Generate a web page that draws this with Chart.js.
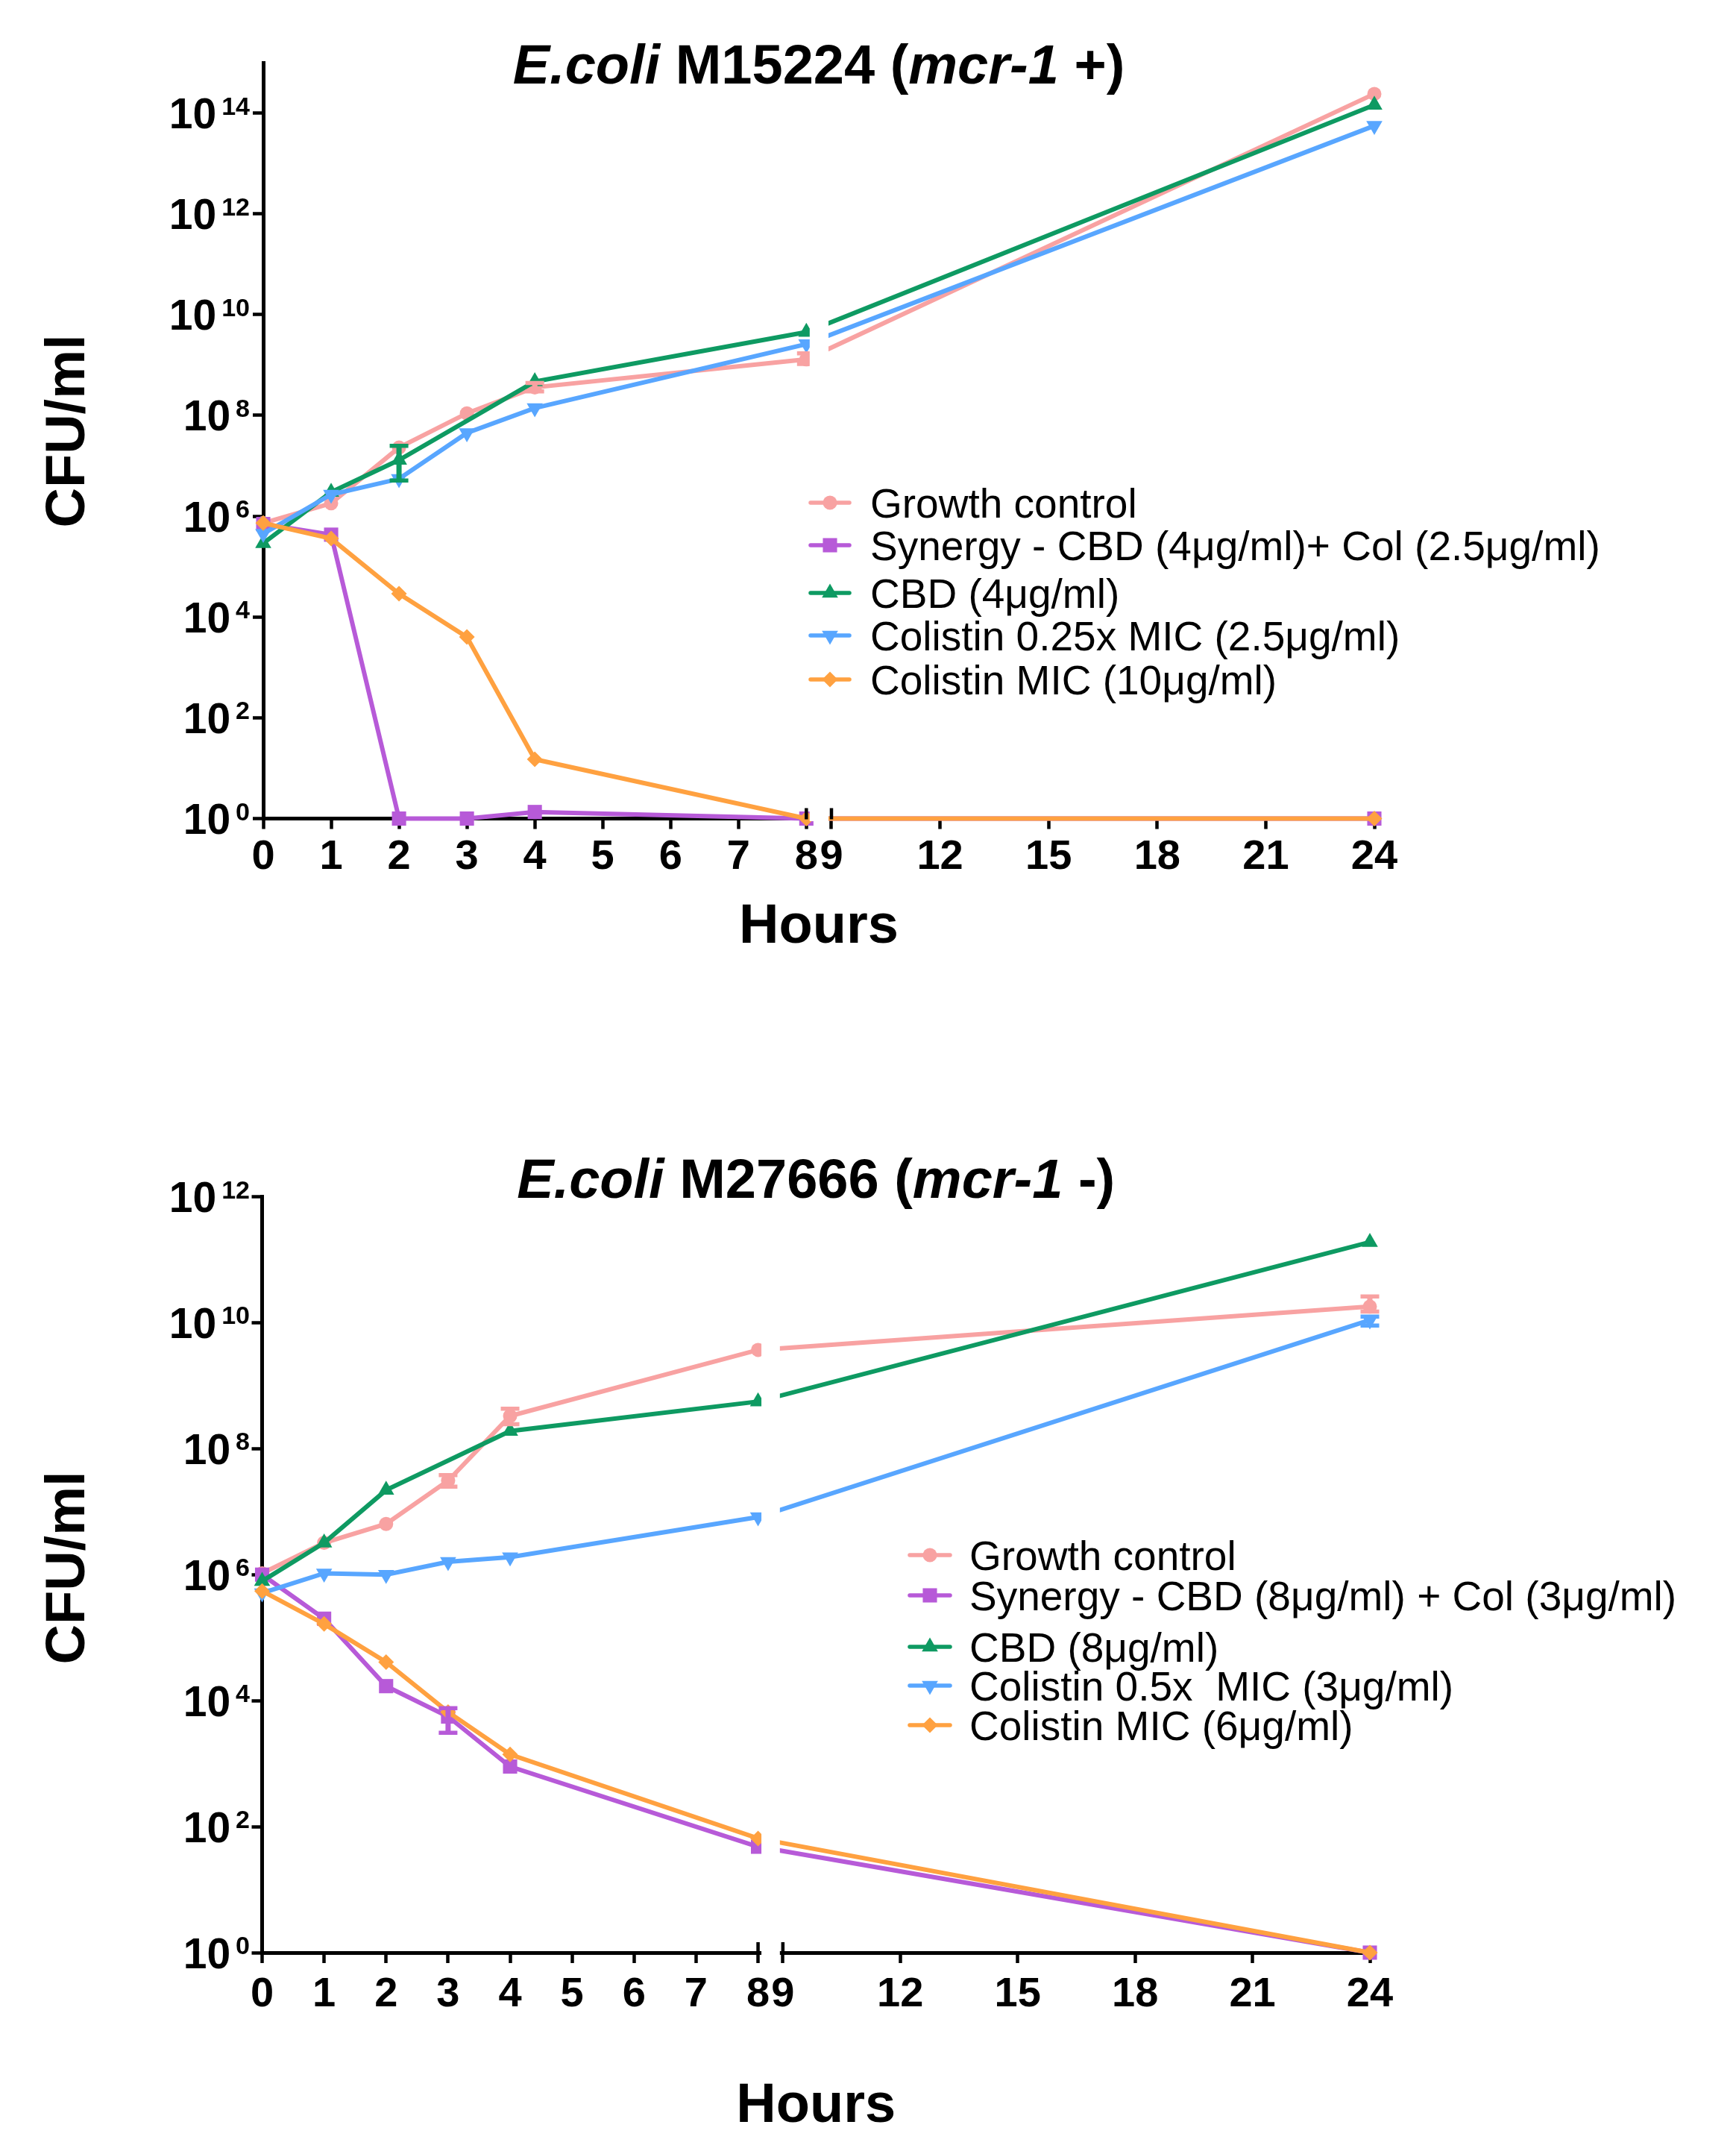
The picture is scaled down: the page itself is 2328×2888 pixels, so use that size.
<!DOCTYPE html>
<html><head><meta charset="utf-8">
<script src="https://cdn.jsdelivr.net/npm/chart.js@4.4.1/dist/chart.umd.min.js"></script>
<style>
html,body{margin:0;padding:0;background:#fff;}
#wrap{position:relative;width:2328px;height:2888px;background:#fff;overflow:hidden;}
canvas{position:absolute;left:0;}
#c1{top:0;} #c2{top:1444px;}
</style></head><body>
<div id="wrap"><canvas id="c1" width="2328" height="1444"></canvas><canvas id="c2" width="2328" height="1444"></canvas></div>
<script>
// ---------------- DATA ----------------
const hours = [0, 1, 2, 3, 4, 8, 24];
const xTickValues = [0, 1, 2, 3, 4, 5, 6, 7, 8, 9, 12, 15, 18, 21, 24];

// Chart 1: E.coli M15224 (mcr-1 +)
const labels1 = ['Growth control', 'Synergy - CBD (4\u03BCg/ml)+ Col (2.5\u03BCg/ml)', 'CBD (4\u03BCg/ml)', 'Colistin 0.25x MIC (2.5\u03BCg/ml)', 'Colistin MIC (10\u03BCg/ml)'];
const growth1  = [7.3e5, 1.8e6, 2.3e7, 1.1e8, 3.6e8, 1.3e9, 2.4e14];
const synergy1 = [7.0e5, 4.3e5, 1, 1, 1.35, 1, 1];
const cbd1     = [2.9e5, 3.0e6, 1.3e7, null, 4.7e8, 4.5e9, 1.45e14];
const colLow1  = [4.5e5, 2.7e6, 5.5e6, 4.5e7, 1.4e8, 2.6e9, 5.6e13];
const colMic1  = [7.3e5, 3.6e5, 2.9e4, 4.0e3, 15, 1, 1];
const growth1Err = [null, null, null, null, [3.0e8, 4.4e8], [1.05e9, 1.7e9], null];
const cbd1Err    = [null, null, [5.1e6, 2.5e7], null, null, null, null];
const yExp1 = [0, 2, 4, 6, 8, 10, 12, 14];

// Chart 2: E.coli M27666 (mcr-1 -)
const labels2 = ['Growth control', 'Synergy - CBD (8\u03BCg/ml) + Col (3\u03BCg/ml)', 'CBD (8\u03BCg/ml)', 'Colistin 0.5x  MIC (3\u03BCg/ml)', 'Colistin MIC (6\u03BCg/ml)'];
const growth2  = [1.05e6, 3.2e6, 6.4e6, 3.1e7, 3.3e8, 3.7e9, 1.8e10];
const synergy2 = [1.0e6, 2.0e5, 1.7e4, 5.6e3, 9.0e2, 48, 1];
const cbd2     = [7.9e5, 3.2e6, 2.2e7, null, 1.9e8, 5.6e8, 1.9e11];
const colLow2  = [5.1e5, 1.05e6, 1.0e6, 1.6e6, 1.9e6, 8.2e6, 1.1e10];
const colMic2  = [5.5e5, 1.65e5, 4.1e4, 6.6e3, 1.4e3, 65, 1];
const growth2Err  = [null, null, null, [2.5e7, 3.8e7], [2.45e8, 4.3e8], null, [1.5e10, 2.6e10]];
const synergy2Err = [null, null, null, [3.1e3, 7.6e3], null, null, null];
const colLow2Err  = [null, null, null, null, null, null, [0.9e10, 1.25e10]];
const yExp2 = [0, 2, 4, 6, 8, 10, 12];

// ---------------- STYLE ----------------
const FONT = '"Liberation Sans", Arial, Helvetica, sans-serif';
Chart.defaults.font.family = FONT;
Chart.defaults.color = '#000';

const seriesStyles = [
  {color: '#F8A2A2', pointStyle: 'circle',   radius: 9.5,  rotation: 0},
  {color: '#B75AD8', pointStyle: 'rect',     radius: 13.5, rotation: 0},
  {color: '#0E9A62', pointStyle: 'triangle', radius: 12.5, rotation: 0},
  {color: '#58A6FF', pointStyle: 'triangle', radius: 12.5, rotation: 180},
  {color: '#FFA140', pointStyle: 'rectRot',  radius: 10.5, rotation: 0}
];

// ------------- broken linear scale -------------
class BrokenScale extends Chart.LinearScale {
  _frac(v) {
    const o = this.options, a = o.breakFrac, g = o.gapFrac;
    if (v <= o.breakStart) return (v - this.min) / (o.breakStart - this.min) * a;
    if (v >= o.breakEnd) return a + g + (v - o.breakEnd) / (this.max - o.breakEnd) * (1 - a - g);
    return a + (v - o.breakStart) / (o.breakEnd - o.breakStart) * g;
  }
  getPixelForValue(value) {
    if (value === null || value === undefined || isNaN(value)) return NaN;
    return this.getPixelForDecimal(this._frac(value));
  }
  getValueForPixel(pixel) {
    const o = this.options, a = o.breakFrac, g = o.gapFrac;
    const f = this.getDecimalForPixel(pixel);
    if (f <= a) return this.min + f / a * (o.breakStart - this.min);
    if (f >= a + g) return o.breakEnd + (f - a - g) / (1 - a - g) * (this.max - o.breakEnd);
    return o.breakStart + (f - a) / g * (o.breakEnd - o.breakStart);
  }
}
BrokenScale.id = 'broken';
BrokenScale.defaults = Chart.LinearScale.defaults;
Chart.register(BrokenScale);

// ------------- drawing plugin -------------
const decorPlugin = {
  id: 'decor',
  afterDatasetsDraw(chart, args, opts) {
    const ctx = chart.ctx, xs = chart.scales.x, ys = chart.scales.y, ca = chart.chartArea;
    // error bars
    chart.data.datasets.forEach(ds => {
      if (!ds.errorBars) return;
      ctx.save();
      ctx.strokeStyle = ds.borderColor; ctx.lineCap = 'butt';
      ds.errorBars.forEach((e, i) => {
        if (!e) return;
        const x = xs.getPixelForValue(hours[i]);
        const y1 = ys.getPixelForValue(e[0]), y2 = ys.getPixelForValue(e[1]);
        ctx.lineWidth = 7;
        ctx.beginPath(); ctx.moveTo(x, y1); ctx.lineTo(x, y2); ctx.stroke();
        ctx.lineWidth = 5.5;
        ctx.beginPath();
        ctx.moveTo(x - 12.5, y1); ctx.lineTo(x + 12.5, y1);
        ctx.moveTo(x - 12.5, y2); ctx.lineTo(x + 12.5, y2);
        ctx.stroke();
      });
      ctx.restore();
    });
    // axis break gap
    const xo = xs.options;
    const xa = xs.getPixelForValue(xo.breakStart), xb = xs.getPixelForValue(xo.breakEnd);
    ctx.save();
    ctx.fillStyle = '#fff';
    ctx.fillRect(xa + 4.5, ca.top - 40, (xb - 4) - (xa + 4.5), ca.bottom + 3.5 - (ca.top - 40));
    ctx.strokeStyle = '#000'; ctx.lineWidth = 4.5;
    ctx.beginPath();
    [xa, xb].forEach(x => { ctx.moveTo(x, ca.bottom - 14); ctx.lineTo(x, ca.bottom + 1); });
    ctx.stroke();
    ctx.restore();
  },
  afterDraw(chart, args, opts) {
    const ctx = chart.ctx, ys = chart.scales.y, ca = chart.chartArea;
    ctx.save();
    ctx.fillStyle = '#000';
    // y tick labels 10^n
    ys.ticks.forEach(t => {
      const y = ys.getPixelForValue(t.value);
      const e = String(Math.round(Math.log10(t.value)));
      ctx.textAlign = 'right'; ctx.textBaseline = 'alphabetic';
      ctx.font = 'bold 34px ' + FONT;
      ctx.fillText(e, opts.yLabelRight, y + 2);
      const w = ctx.measureText(e).width;
      ctx.font = 'bold 57px ' + FONT;
      ctx.fillText('10', opts.yLabelRight - w - 7, y + 20.5);
    });
    // chart title (mixed italic)
    const cx = (ca.left + ca.right) / 2;
    let total = 0;
    opts.title.forEach(s => { ctx.font = (s.it ? 'italic ' : '') + 'bold 74px ' + FONT; total += ctx.measureText(s.t).width; });
    let x = cx - total / 2;
    ctx.textAlign = 'left';
    opts.title.forEach(s => { ctx.font = (s.it ? 'italic ' : '') + 'bold 74px ' + FONT; ctx.fillText(s.t, x, opts.titleBaseline); x += ctx.measureText(s.t).width; });
    // x title
    ctx.textAlign = 'center';
    ctx.font = 'bold 74px ' + FONT;
    ctx.fillText('Hours', cx, opts.hoursBaseline);
    // y title
    ctx.save();
    ctx.translate(opts.yTitleBaseline, opts.yTitleCenter);
    ctx.rotate(-Math.PI / 2);
    ctx.fillText('CFU/ml', 0, 0);
    ctx.restore();
    // legend
    const lg = opts.legend;
    chart.data.datasets.forEach((ds, i) => {
      const ry = lg.rows[i];
      ctx.strokeStyle = ds.borderColor; ctx.lineWidth = 5.5; ctx.lineCap = 'round';
      ctx.beginPath(); ctx.moveTo(lg.x0, ry); ctx.lineTo(lg.x1, ry); ctx.stroke();
      ctx.fillStyle = ds.borderColor;
      Chart.helpers.drawPoint(ctx, {pointStyle: ds.pointStyle, radius: ds.pointRadius, rotation: ds.pointRotation, borderWidth: 0}, (lg.x0 + lg.x1) / 2, ry);
      ctx.fillStyle = '#000';
      ctx.font = '55px ' + FONT; ctx.textAlign = 'left'; ctx.textBaseline = 'alphabetic';
      ctx.fillText(ds.label, lg.textX, ry + 19.7);
    });
    ctx.restore();
  }
};

function makeDatasets(labels, series, errs) {
  return series.map((vals, i) => {
    const s = seriesStyles[i];
    return {
      label: labels[i],
      data: hours.map((h, j) => ({x: h, y: vals[j]})),
      borderColor: s.color, backgroundColor: s.color,
      pointBackgroundColor: s.color, pointBorderColor: s.color, pointBorderWidth: 0,
      borderWidth: 6, pointStyle: s.pointStyle, pointRadius: s.radius, pointRotation: s.rotation,
      pointHoverRadius: s.radius, tension: 0, spanGaps: true, clip: false,
      order: series.length - i, errorBars: errs[i]
    };
  });
}

function makeChart(id, g) {
  const canvas = document.getElementById(id);
  const W = canvas.width, H = canvas.height;
  return new Chart(canvas, {
    type: 'line',
    data: {datasets: makeDatasets(g.labels, g.series, g.errs)},
    options: {
      responsive: false, animation: false, devicePixelRatio: 1,
      layout: {autoPadding: false, padding: {left: 0, top: g.top, right: W - g.right, bottom: 0}},
      plugins: {legend: {display: false}, title: {display: false}, tooltip: {enabled: false},
        decor: {title: g.title, titleBaseline: g.titleBaseline, hoursBaseline: g.hoursBaseline,
                yTitleBaseline: 113, yTitleCenter: g.yTitleCenter, yLabelRight: 335, legend: g.legend}},
      scales: {
        x: {
          type: 'broken', min: 0, max: 24,
          breakStart: 8, breakEnd: 9, breakFrac: g.breakFrac, gapFrac: g.gapFrac,
          afterBuildTicks: ax => { ax.ticks = xTickValues.map(v => ({value: v})); },
          afterFit: ax => { ax.height = H - g.bottom; },
          grid: {display: true, drawOnChartArea: false, drawTicks: true, tickLength: 14, tickWidth: 4.5, tickColor: '#000'},
          border: {display: true, color: '#000', width: 5},
          ticks: {autoSkip: false, maxRotation: 0, minRotation: 0, padding: g.xTickPad, color: '#000',
                  font: {size: 56, weight: 'bold', lineHeight: 1}}
        },
        y: {
          type: 'logarithmic', min: 1, max: g.yMax,
          afterBuildTicks: ax => { ax.ticks = g.yExp.map(e => ({value: Math.pow(10, e)})); },
          afterFit: ax => { ax.width = g.left; },
          grid: {display: true, drawOnChartArea: false, drawTicks: true, tickLength: 14, tickWidth: 4.5, tickColor: '#000'},
          border: {display: true, color: '#000', width: 5},
          ticks: {display: false}
        }
      }
    },
    plugins: [decorPlugin]
  });
}

makeChart('c1', {
  labels: labels1,
  series: [growth1, synergy1, cbd1, colLow1, colMic1],
  errs: [growth1Err, null, cbd1Err, null, null],
  yExp: yExp1, yMax: 1e15,
  left: 353, right: 1843, top: 84, bottom: 1097.5,
  breakFrac: 0.4888, gapFrac: 0.0226, xTickPad: 10,
  title: [{t: 'E.coli', it: true}, {t: ' M15224 (', it: false}, {t: 'mcr-1', it: true}, {t: ' +)', it: false}],
  titleBaseline: 112, hoursBaseline: 1264, yTitleCenter: 578,
  legend: {x0: 1087, x1: 1139, textX: 1167, rows: [674, 731, 795, 852, 911]}
});

makeChart('c2', {
  labels: labels2,
  series: [growth2, synergy2, cbd2, colLow2, colMic2],
  errs: [growth2Err, synergy2Err, null, colLow2Err, null],
  yExp: yExp2, yMax: 1e12,
  left: 351.5, right: 1837, top: 160.5, bottom: 1174,
  breakFrac: 0.4477, gapFrac: 0.0224, xTickPad: 15,
  title: [{t: 'E.coli', it: true}, {t: ' M27666 (', it: false}, {t: 'mcr-1', it: true}, {t: ' -)', it: false}],
  titleBaseline: 162, hoursBaseline: 1401, yTitleCenter: 658,
  legend: {x0: 1220, x1: 1274, textX: 1300, rows: [641, 695, 764, 816, 869]}
});
</script>
</body></html>
